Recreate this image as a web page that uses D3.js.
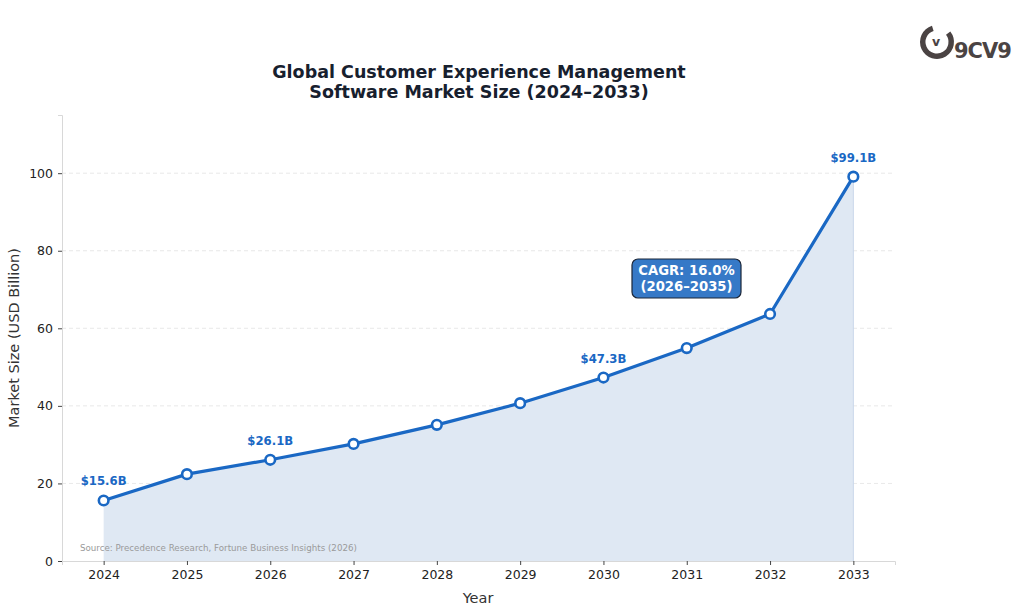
<!DOCTYPE html>
<html><head><meta charset="utf-8">
<script src="https://cdn.jsdelivr.net/npm/d3@7"></script>
<style>body{margin:0;background:#fff}svg{display:block}text{font-family:"DejaVu Sans",sans-serif}</style>
</head><body><svg id="c" width="1024" height="613"></svg>
<script>
const years = [2024,2025,2026,2027,2028,2029,2030,2031,2032,2033];
const values = [15.6,22.4,26.1,30.2,35.1,40.7,47.3,54.9,63.7,99.1];
const labelYears = [2024,2026,2030,2033];
const yTicks = [0,20,40,60,80,100];
const title = ["Global Customer Experience Management","Software Market Size (2024–2033)"];

const svg = d3.select("#c");
const m = {l:62,r:895,t:115,b:561};
const x = d3.scaleLinear().domain([2023.5,2033.5]).range([m.l,m.r]);
const y = d3.scaleLinear().domain([0,115]).range([m.b,m.t]);
const blue = "#1a68c4";

// grid
svg.append("g").selectAll("line").data(yTicks.slice(1)).join("line")
 .attr("x1",m.l).attr("x2",m.r).attr("y1",d=>y(d)).attr("y2",d=>y(d))
 .attr("stroke","#e2e2e2").attr("stroke-dasharray","4,3").attr("stroke-width",0.8);

// area
const data = years.map((d,i)=>({x:d,y:values[i]}));
svg.append("path").datum(data).attr("d",d3.area().x(d=>x(d.x)).y0(y(0)).y1(d=>y(d.y)))
 .attr("fill","#dfe8f3");
svg.append("line").attr("x1",x(2033)).attr("x2",x(2033)).attr("y1",y(99.1)).attr("y2",y(0))
 .attr("stroke","#c9d7ea").attr("stroke-width",1);

// axes
const ya = svg.append("g").attr("transform",`translate(${m.l},0)`)
 .call(d3.axisLeft(y).tickValues(yTicks).tickSize(4).tickPadding(5));
const xa = svg.append("g").attr("transform",`translate(0,${m.b})`)
 .call(d3.axisBottom(x).tickValues(years).tickFormat(d3.format("d")).tickSize(4).tickPadding(5));
[ya,xa].forEach(g=>{
 g.select(".domain").attr("stroke","#d8d8d8");
 g.selectAll(".tick line").attr("stroke","#444");
 g.selectAll(".tick text").attr("fill","#222").attr("font-size",12.5).style("font-family","DejaVu Sans");
});

// line
svg.append("path").datum(data).attr("d",d3.line().x(d=>x(d.x)).y(d=>y(d.y)))
 .attr("fill","none").attr("stroke",blue).attr("stroke-width",3.2).attr("stroke-linejoin","round");
svg.append("g").selectAll("circle").data(data).join("circle")
 .attr("cx",d=>x(d.x)).attr("cy",d=>y(d.y)).attr("r",4.8)
 .attr("fill","#fff").attr("stroke",blue).attr("stroke-width",2.6);

// value labels
svg.append("g").selectAll("text").data(data.filter(d=>labelYears.includes(d.x))).join("text")
 .attr("x",d=>x(d.x)).attr("y",d=>y(d.y)-15).attr("text-anchor","middle")
 .attr("font-size",11.7).attr("font-weight","bold").attr("fill",blue)
 .text(d=>"$"+d.y.toFixed(1)+"B");

// CAGR box
const bx = 686.5, by = 277;
svg.append("rect").attr("x",bx-54.5).attr("y",by-18).attr("width",109).attr("height",39).attr("rx",6)
 .attr("fill","#3679c7").attr("stroke","#1b2638").attr("stroke-width",1.2);
svg.append("text").attr("x",bx).attr("y",by-2).attr("text-anchor","middle").attr("fill","#fff")
 .attr("font-size",13.2).attr("font-weight","bold").text("CAGR: 16.0%");
svg.append("text").attr("x",bx).attr("y",by+14).attr("text-anchor","middle").attr("fill","#fff")
 .attr("font-size",13.2).attr("font-weight","bold").text("(2026–2035)");

// source
svg.append("text").attr("x",80).attr("y",551).attr("font-size",8.7).attr("fill","#9a9a9a")
 .text("Source: Precedence Research, Fortune Business Insights (2026)");

// title
svg.append("text").attr("x",479).attr("y",78).attr("text-anchor","middle").attr("font-size",17.5)
 .attr("font-weight","bold").attr("fill","#17202e").text(title[0]);
svg.append("text").attr("x",479).attr("y",98).attr("text-anchor","middle").attr("font-size",17.5)
 .attr("font-weight","bold").attr("fill","#17202e").text(title[1]);

// axis titles
svg.append("text").attr("x",478).attr("y",603).attr("text-anchor","middle").attr("font-size",14.5)
 .attr("fill","#333").text("Year");
svg.append("text").attr("transform","translate(19,338) rotate(-90)").attr("text-anchor","middle")
 .attr("font-size",14.5).attr("fill","#333").text("Market Size (USD Billion)");

// logo
const lg = svg.append("g").attr("transform","translate(937,42)");
lg.append("path").attr("d",d3.arc().innerRadius(11.5).outerRadius(17).startAngle(0.9).endAngle(2*Math.PI-0.3)())
 .attr("fill","#4a4343");
lg.append("text").attr("x",-1).attr("y",4).attr("text-anchor","middle").attr("font-size",12.5).attr("font-weight","bold")
 .attr("fill","#4a4343").text("v");
lg.append("text").attr("x",17).attr("y",16).attr("font-size",21).attr("font-weight","bold").attr("fill","#4a4343")
 .attr("letter-spacing",-1).text("9CV9");
</script></body></html>
